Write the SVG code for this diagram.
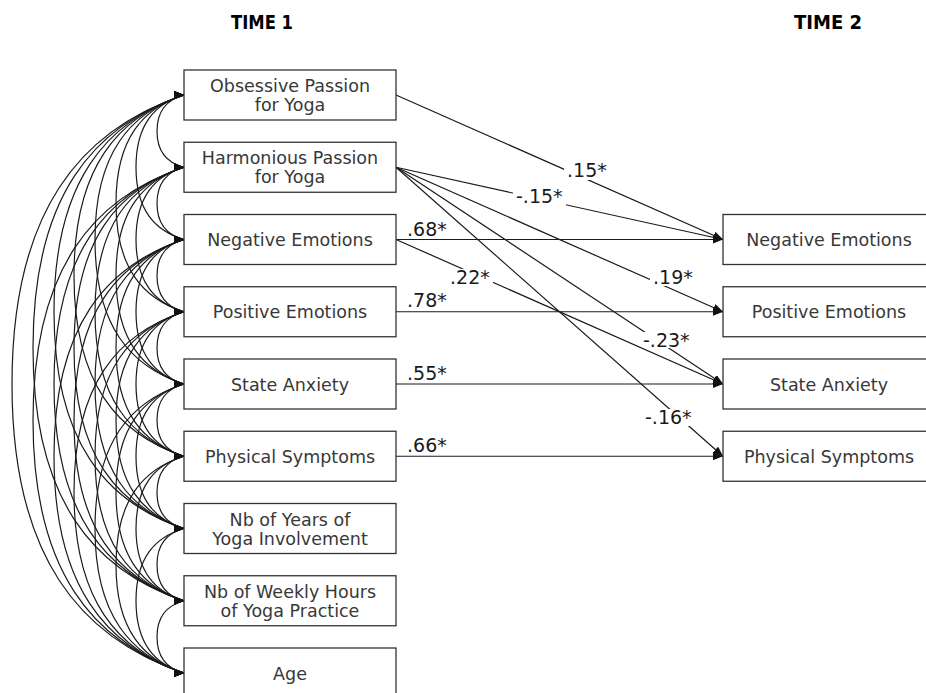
<svg xmlns="http://www.w3.org/2000/svg" width="926" height="693" viewBox="0 0 926 693">
<style>
.box{fill:#fff;stroke:#333;stroke-width:1.3}
.nt{font-family:"DejaVu Sans",Verdana,sans-serif;font-size:17.5px;fill:#383838;text-anchor:middle}
.cv{fill:none;stroke:#1a1a1a;stroke-width:1.2;marker-start:url(#ah0);marker-end:url(#ah0)}
.pth{fill:none;stroke:#1a1a1a;stroke-width:1.2;marker-end:url(#ah)}
.bg{fill:#fff;stroke:none}
.lb{font-family:"DejaVu Sans",Verdana,sans-serif;font-size:19px;fill:#1a1a1a}
.tt{font-family:"DejaVu Sans",Verdana,sans-serif;font-size:20px;font-weight:bold;fill:#000}
</style>
<defs>
<marker id="ah0" viewBox="0 0 10 8" refX="10" refY="4" markerWidth="10" markerHeight="8" markerUnits="userSpaceOnUse" orient="0"><path d="M0,0 L10,4 L0,8 z" fill="#111"/></marker>
<marker id="ah" viewBox="0 0 10 8" refX="10" refY="4" markerWidth="10" markerHeight="8" markerUnits="userSpaceOnUse" orient="auto"><path d="M0,0 L10,4 L0,8 z" fill="#111"/></marker>
</defs>
<rect width="926" height="693" fill="#fff"/>
<text class="tt" x="231" y="29" textLength="62" lengthAdjust="spacingAndGlyphs">TIME 1</text>
<text class="tt" x="794" y="29" textLength="68" lengthAdjust="spacingAndGlyphs">TIME 2</text>
<g id="covariances">
<path class="cv" d="M184,95 c-16.2,4.33 -27,14.45 -27,36.125 c0,21.68 10.8,31.79 27,36.125"/>
<path class="cv" d="M184,167.25 c-16.2,4.33 -27,14.45 -27,36.125 c0,21.68 10.8,31.79 27,36.125"/>
<path class="cv" d="M184,239.5 c-16.2,4.33 -27,14.45 -27,36.125 c0,21.68 10.8,31.79 27,36.125"/>
<path class="cv" d="M184,311.75 c-16.2,4.33 -27,14.45 -27,36.125 c0,21.68 10.8,31.79 27,36.125"/>
<path class="cv" d="M184,384 c-16.2,4.33 -27,14.45 -27,36.125 c0,21.68 10.8,31.79 27,36.125"/>
<path class="cv" d="M184,456.25 c-16.2,4.33 -27,14.45 -27,36.125 c0,21.68 10.8,31.79 27,36.125"/>
<path class="cv" d="M184,528.5 c-16.2,4.33 -27,14.45 -27,36.125 c0,21.68 10.8,31.79 27,36.125"/>
<path class="cv" d="M184,600.75 c-16.2,4.33 -27,14.45 -27,36.125 c0,21.68 10.8,31.79 27,36.125"/>
<path class="cv" d="M184,95 c-28.8,8.67 -48,28.9 -48,72.25 c0,43.35 19.2,63.58 48,72.25"/>
<path class="cv" d="M184,167.25 c-28.8,8.67 -48,28.9 -48,72.25 c0,43.35 19.2,63.58 48,72.25"/>
<path class="cv" d="M184,239.5 c-28.8,8.67 -48,28.9 -48,72.25 c0,43.35 19.2,63.58 48,72.25"/>
<path class="cv" d="M184,311.75 c-28.8,8.67 -48,28.9 -48,72.25 c0,43.35 19.2,63.58 48,72.25"/>
<path class="cv" d="M184,384 c-28.8,8.67 -48,28.9 -48,72.25 c0,43.35 19.2,63.58 48,72.25"/>
<path class="cv" d="M184,456.25 c-28.8,8.67 -48,28.9 -48,72.25 c0,43.35 19.2,63.58 48,72.25"/>
<path class="cv" d="M184,528.5 c-28.8,8.67 -48,28.9 -48,72.25 c0,43.35 19.2,63.58 48,72.25"/>
<path class="cv" d="M184,95 c-40.8,13 -68,43.35 -68,108.375 c0,65.03 27.2,95.37 68,108.375"/>
<path class="cv" d="M184,167.25 c-40.8,13 -68,43.35 -68,108.375 c0,65.03 27.2,95.37 68,108.375"/>
<path class="cv" d="M184,239.5 c-40.8,13 -68,43.35 -68,108.375 c0,65.03 27.2,95.37 68,108.375"/>
<path class="cv" d="M184,311.75 c-40.8,13 -68,43.35 -68,108.375 c0,65.03 27.2,95.37 68,108.375"/>
<path class="cv" d="M184,384 c-40.8,13 -68,43.35 -68,108.375 c0,65.03 27.2,95.37 68,108.375"/>
<path class="cv" d="M184,456.25 c-40.8,13 -68,43.35 -68,108.375 c0,65.03 27.2,95.37 68,108.375"/>
<path class="cv" d="M184,95 c-53.4,17.34 -89,57.8 -89,144.5 c0,86.7 35.6,127.16 89,144.5"/>
<path class="cv" d="M184,167.25 c-53.4,17.34 -89,57.8 -89,144.5 c0,86.7 35.6,127.16 89,144.5"/>
<path class="cv" d="M184,239.5 c-53.4,17.34 -89,57.8 -89,144.5 c0,86.7 35.6,127.16 89,144.5"/>
<path class="cv" d="M184,311.75 c-53.4,17.34 -89,57.8 -89,144.5 c0,86.7 35.6,127.16 89,144.5"/>
<path class="cv" d="M184,384 c-53.4,17.34 -89,57.8 -89,144.5 c0,86.7 35.6,127.16 89,144.5"/>
<path class="cv" d="M184,95 c-66,21.68 -110,72.25 -110,180.625 c0,108.38 44,158.95 110,180.625"/>
<path class="cv" d="M184,167.25 c-66,21.68 -110,72.25 -110,180.625 c0,108.38 44,158.95 110,180.625"/>
<path class="cv" d="M184,239.5 c-66,21.68 -110,72.25 -110,180.625 c0,108.38 44,158.95 110,180.625"/>
<path class="cv" d="M184,311.75 c-66,21.68 -110,72.25 -110,180.625 c0,108.38 44,158.95 110,180.625"/>
<path class="cv" d="M184,95 c-78,26 -130,86.7 -130,216.75 c0,130.05 52,190.74 130,216.75"/>
<path class="cv" d="M184,167.25 c-78,26 -130,86.7 -130,216.75 c0,130.05 52,190.74 130,216.75"/>
<path class="cv" d="M184,239.5 c-78,26 -130,86.7 -130,216.75 c0,130.05 52,190.74 130,216.75"/>
<path class="cv" d="M184,95 c-90.6,30.35 -151,101.15 -151,252.875 c0,151.73 60.4,222.53 151,252.875"/>
<path class="cv" d="M184,167.25 c-90.6,30.35 -151,101.15 -151,252.875 c0,151.73 60.4,222.53 151,252.875"/>
<path class="cv" d="M184,95 c-103.2,34.68 -172,115.6 -172,289 c0,173.4 68.8,254.32 172,289"/>
</g>
<g id="paths">
<line class="pth" x1="396" y1="167.25" x2="723" y2="239.5"/>
<rect class="bg" x="513" y="188" width="53" height="18"/>
<line class="pth" x1="396" y1="167.25" x2="723" y2="311.75"/>
<rect class="bg" x="650" y="269" width="46" height="17"/>
<line class="pth" x1="396" y1="167.25" x2="723" y2="384"/>
<rect class="bg" x="640" y="332" width="53" height="16"/>
<line class="pth" x1="396" y1="167.25" x2="723" y2="456.25"/>
<rect class="bg" x="642" y="409" width="53" height="17"/>
<line class="pth" x1="396" y1="95" x2="723" y2="239.5"/>
<rect class="bg" x="564" y="162" width="46" height="18"/>
<line class="pth" x1="396" y1="239.5" x2="723" y2="384"/>
<rect class="bg" x="447" y="269" width="46" height="17"/>
<line class="pth" x1="396" y1="239.5" x2="723" y2="239.5"/>
<line class="pth" x1="396" y1="311.75" x2="723" y2="311.75"/>
<line class="pth" x1="396" y1="384" x2="723" y2="384"/>
<line class="pth" x1="396" y1="456.25" x2="723" y2="456.25"/>
</g>
<g id="path-labels">
<text class="lb" x="567" y="177">.15*</text>
<text class="lb" x="516" y="203">-.15*</text>
<text class="lb" x="407" y="236">.68*</text>
<text class="lb" x="450" y="284">.22*</text>
<text class="lb" x="653" y="284">.19*</text>
<text class="lb" x="407" y="307">.78*</text>
<text class="lb" x="643" y="347">-.23*</text>
<text class="lb" x="407" y="380">.55*</text>
<text class="lb" x="645" y="424">-.16*</text>
<text class="lb" x="407" y="452">.66*</text>
</g>
<g id="t1_op"><rect class="box" x="184" y="70" width="212" height="50"/><text class="nt" x="290" y="92">Obsessive Passion</text><text class="nt" x="290" y="111">for Yoga</text></g>
<g id="t1_hp"><rect class="box" x="184" y="142.25" width="212" height="50"/><text class="nt" x="290" y="164.25">Harmonious Passion</text><text class="nt" x="290" y="183.25">for Yoga</text></g>
<g id="t1_ne"><rect class="box" x="184" y="214.5" width="212" height="50"/><text class="nt" x="290" y="246">Negative Emotions</text></g>
<g id="t1_pe"><rect class="box" x="184" y="286.75" width="212" height="50"/><text class="nt" x="290" y="318.25">Positive Emotions</text></g>
<g id="t1_sa"><rect class="box" x="184" y="359" width="212" height="50"/><text class="nt" x="290" y="390.5">State Anxiety</text></g>
<g id="t1_ps"><rect class="box" x="184" y="431.25" width="212" height="50"/><text class="nt" x="290" y="462.75">Physical Symptoms</text></g>
<g id="t1_yrs"><rect class="box" x="184" y="503.5" width="212" height="50"/><text class="nt" x="290" y="525.5">Nb of Years of</text><text class="nt" x="290" y="544.5">Yoga Involvement</text></g>
<g id="t1_hrs"><rect class="box" x="184" y="575.75" width="212" height="50"/><text class="nt" x="290" y="597.75">Nb of Weekly Hours</text><text class="nt" x="290" y="616.75">of Yoga Practice</text></g>
<g id="t1_age"><rect class="box" x="184" y="648" width="212" height="50"/><text class="nt" x="290" y="679.5">Age</text></g>
<g id="t2_ne"><rect class="box" x="723" y="214.5" width="215" height="50"/><text class="nt" x="829" y="246">Negative Emotions</text></g>
<g id="t2_pe"><rect class="box" x="723" y="286.75" width="215" height="50"/><text class="nt" x="829" y="318.25">Positive Emotions</text></g>
<g id="t2_sa"><rect class="box" x="723" y="359" width="215" height="50"/><text class="nt" x="829" y="390.5">State Anxiety</text></g>
<g id="t2_ps"><rect class="box" x="723" y="431.25" width="215" height="50"/><text class="nt" x="829" y="462.75">Physical Symptoms</text></g>
</svg>
